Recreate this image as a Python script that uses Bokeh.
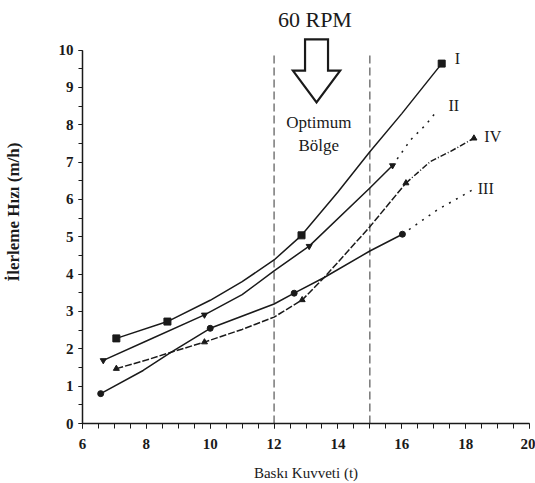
from bokeh.plotting import figure
from bokeh.models import FixedTicker, Label
from bokeh.core.properties import value
from bokeh.embed import file_html
from bokeh.resources import INLINE

# ---- data ----
# Curve I (squares)
i_x = [7.06, 8.66, 10.0, 11.0, 12.0, 12.86, 14.0, 15.0, 16.0, 17.25]
i_y = [2.28, 2.73, 3.30, 3.80, 4.38, 5.04, 6.20, 7.28, 8.30, 9.64]
i_mx = [7.06, 8.66, 12.86, 17.25]
i_my = [2.28, 2.73, 5.04, 9.64]

# Curve II (triangles) solid part + dotted extension
ii_x = [6.65, 8.0, 9.82, 11.0, 12.0, 13.1, 15.0, 15.71]
ii_y = [1.69, 2.21, 2.91, 3.45, 4.09, 4.75, 6.31, 6.91]
ii_ext_x = [15.71, 16.28, 16.75, 17.13]
ii_ext_y = [6.91, 7.60, 8.00, 8.40]
ii_mx = [6.65, 9.82, 13.1, 15.71]
ii_my = [1.69, 2.91, 4.75, 6.91]

# Curve III (circles) solid part + dotted extension
iii_x = [6.57, 7.9, 8.78, 10.0, 12.0, 12.63, 13.57, 15.0, 16.02]
iii_y = [0.80, 1.42, 1.91, 2.55, 3.20, 3.49, 3.91, 4.62, 5.07]
iii_ext_x = [16.02, 17.11, 18.26]
iii_ext_y = [5.07, 5.72, 6.28]
iii_mx = [6.57, 10.0, 12.63, 16.02]
iii_my = [0.80, 2.55, 3.49, 5.07]

# Curve IV (triangles) main part + dash-dot extension
iv_x = [7.06, 8.0, 8.78, 9.82, 11.0, 12.0, 12.88, 13.57, 15.0, 16.13]
iv_y = [1.47, 1.70, 1.91, 2.18, 2.52, 2.85, 3.31, 3.91, 5.27, 6.44]
iv_ext_x = [16.13, 16.9, 17.53, 18.26]
iv_ext_y = [6.44, 7.02, 7.29, 7.64]
iv_mx = [7.06, 9.82, 12.88, 16.13, 18.26]
iv_my = [1.47, 2.18, 3.31, 6.44, 7.64]

# curve labels
lab_text = ["I", "II", "IV", "III"]
lab_x = [17.74, 17.63, 18.85, 18.63]
lab_y = [9.78, 8.53, 7.69, 6.29]

# optimum zone bounds
zone_x = [12, 15]
zone_top = 9.9

x_ticks = [6, 8, 10, 12, 14, 16, 18, 20]
y_ticks = [0, 1, 2, 3, 4, 5, 6, 7, 8, 9, 10]

# arrow geometry
arrow_cx = 13.33
arrow_top = 10.29
arrow_neck = 9.45
arrow_tip = 8.60
shaft_half = 0.36
head_half = 0.74

FONT = "Liberation Serif"
INK = "#1a1a1a"

p = figure(width=535, height=483, x_range=(6, 20), y_range=(0, 11.33),
           output_backend="svg", toolbar_location=None,
           min_border_left=81, min_border_right=6, min_border_top=0,
           min_border_bottom=58)
p.outline_line_color = None
p.xgrid.grid_line_color = None
p.ygrid.grid_line_color = None
p.background_fill_color = "white"

# axes
xa = p.xaxis[0]
xa.ticker = FixedTicker(ticks=x_ticks,
                        minor_ticks=[6 + 0.5 * k for k in range(29)])
xa.axis_line_color = INK
xa.axis_line_width = 1.5
xa.major_tick_line_color = INK
xa.minor_tick_line_color = INK
xa.major_tick_in = 0
xa.major_tick_out = 5
xa.minor_tick_in = 0
xa.minor_tick_out = 5
xa.major_label_text_font = FONT
xa.major_label_text_font_size = "15px"
xa.major_label_text_font_style = "bold"
xa.major_label_text_color = INK
xa.major_label_standoff = 10
xa.axis_label = "Baskı Kuvveti (t)"
xa.axis_label_text_font = FONT
xa.axis_label_text_font_size = "15px"
xa.axis_label_text_font_style = "normal"
xa.axis_label_text_color = INK
xa.axis_label_standoff = 13

ya = p.yaxis[0]
ya.bounds = (0, 10)
ya.ticker = FixedTicker(ticks=y_ticks,
                        minor_ticks=[0.5 * k for k in range(21)])
ya.axis_line_color = INK
ya.axis_line_width = 1.5
ya.major_tick_line_color = INK
ya.minor_tick_line_color = INK
ya.major_tick_in = 0
ya.major_tick_out = 4
ya.minor_tick_in = 0
ya.minor_tick_out = 4
ya.major_label_text_font = FONT
ya.major_label_text_font_size = "15px"
ya.major_label_text_font_style = "bold"
ya.major_label_text_color = INK
ya.major_label_standoff = 5
ya.axis_label = "İlerleme Hızı (m/h)"
ya.axis_label_text_font = FONT
ya.axis_label_text_font_size = "17px"
ya.axis_label_text_font_style = "bold"
ya.axis_label_text_color = INK
ya.axis_label_standoff = 33

# optimum zone lines
p.segment(x0=zone_x, y0=[0, 0], x1=zone_x, y1=[zone_top, zone_top],
          line_color="#555555", line_width=1.2, line_dash="8 4")

# curves
LW = 1.5
p.line(i_x, i_y, line_color=INK, line_width=LW)
p.scatter(i_mx, i_my, marker="square", size=7, color=INK)

p.line(ii_x, ii_y, line_color=INK, line_width=LW)
p.line(ii_ext_x, ii_ext_y, line_color=INK, line_width=LW, line_dash="2 6")
p.scatter(ii_mx, ii_my, marker="inverted_triangle", size=6, color=INK)

p.line(iii_x, iii_y, line_color=INK, line_width=LW)
p.line(iii_ext_x, iii_ext_y, line_color=INK, line_width=LW, line_dash="2 6")
p.scatter(iii_mx, iii_my, marker="circle", size=6, color=INK)

p.line(iv_x, iv_y, line_color=INK, line_width=LW, line_dash="7 2")
p.line(iv_ext_x, iv_ext_y, line_color=INK, line_width=LW, line_dash="6 2 1 2")
p.scatter(iv_mx, iv_my, marker="triangle", size=6, color=INK)

# curve labels
p.text(x=lab_x, y=lab_y, text=lab_text, text_font=value(FONT),
       text_font_size="16px", text_align="center", text_baseline="middle",
       text_color=INK)

# arrow
ax = [arrow_cx - shaft_half, arrow_cx + shaft_half, arrow_cx + shaft_half,
      arrow_cx + head_half, arrow_cx, arrow_cx - head_half,
      arrow_cx - shaft_half]
ay = [arrow_top, arrow_top, arrow_neck, arrow_neck, arrow_tip, arrow_neck,
      arrow_neck]
p.patch(ax, ay, fill_color="white", line_color=INK, line_width=2.2,
        line_join="miter")

p.add_layout(Label(x=13.28, y=10.83, text="60 RPM", text_font=FONT,
                   text_font_size="22px", text_align="center",
                   text_baseline="middle", text_color=INK))
p.add_layout(Label(x=13.4, y=8.05, text="Optimum", text_font=FONT,
                   text_font_size="17px", text_align="center",
                   text_baseline="middle", text_color=INK))
p.add_layout(Label(x=13.4, y=7.44, text="Bölge", text_font=FONT,
                   text_font_size="17px", text_align="center",
                   text_baseline="middle", text_color=INK))

open("out.html", "w").write(file_html(p, INLINE))
